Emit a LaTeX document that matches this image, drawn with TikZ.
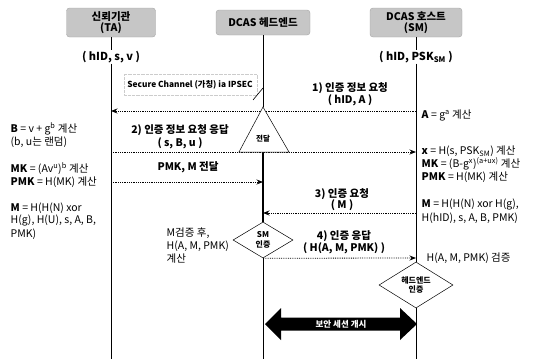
\documentclass[tikz,border=0pt]{standalone}
\usepackage{fontspec}
\setmainfont{Noto Sans CJK KR}
\usetikzlibrary{shapes.geometric,arrows.meta}
\begin{document}
\begin{tikzpicture}[x=1pt,y=-1pt,
  hdr/.style={draw=gray!70, fill=gray!45, rounded corners=3pt, font=\bfseries\fontsize{10.5}{11.5}\selectfont, align=center, inner sep=1pt},
  lbl/.style={font=\bfseries\fontsize{10.5}{12}\selectfont, align=center, inner sep=0.5pt},
  txt/.style={font=\fontsize{10.5}{12}\selectfont, anchor=west, inner sep=0.5pt},
  life/.style={line width=0.9pt},
  msg/.style={densely dotted, line width=0.8pt, -{Stealth[length=6.5pt,width=5pt]}},
  dia/.style={diamond, draw, line width=0.5pt, fill=white, inner sep=0pt, font=\bfseries\fontsize{8}{9.5}\selectfont, align=center}
]
\useasboundingbox (0,0) rectangle (543,359);

% headers
\node[hdr, minimum width=89, minimum height=29] (ta) at (111,22.5) {신뢰기관\\(TA)};
\node[hdr, minimum width=94, minimum height=25] (he) at (263,22.5) {DCAS 헤드엔드};
\node[hdr, minimum width=92, minimum height=29] (sm) at (416,22.5) {DCAS 호스트\\(SM)};

\node[lbl, font=\bfseries\fontsize{11}{12}\selectfont] (tainfo) at (111,57) {( hID, s, v )};
\node[lbl, font=\bfseries\fontsize{11}{12}\selectfont] (sminfo) at (416,57) {( hID, PSK\textsubscript{SM} )};

% coordinates
\coordinate (taend) at (111,359);
\coordinate (heend) at (263,359);
\coordinate (smend) at (416,359);
\coordinate (triA) at (263,107);
\coordinate (triL) at (239,152);
\coordinate (triR) at (289,152);
\coordinate (triB) at (263,152);

% diamonds
\node[dia, shape aspect=1.67, minimum width=60, minimum height=36] (smauth) at (263,240) {SM\\인증};
\node[dia, shape aspect=1.6, minimum width=74, minimum height=46] (heauth) at (416,285) {헤드엔드\\인증};

% lifelines
\draw[life] (ta.south) -- (tainfo.north);
\draw[life] (tainfo.south) -- (taend);
\draw[life] (he.south) -- (triA);
\draw[line width=1.4pt] (triB) -- (smauth.north);
\draw[life] (smauth.south) -- (heend);
\draw[life] (sm.south) -- (sminfo.north);
\draw[life] (sminfo.south) -- (heauth.north);
\draw[life] (heauth.south) -- (smend);

% secure channel
\node[font=\bfseries\fontsize{8.3}{9}\selectfont, inner sep=0pt] (sc) at (190,85) {Secure Channel (가칭) ia IPSEC};
\draw[gray!40, densely dotted, line width=0.3pt] (124,74) rectangle (257,95);
\coordinate (scA) at (253,100);
\coordinate (scB) at (263,88);
\draw[line width=0.6pt] (scA) -- (scB);

% message 1
\coordinate (m1a) at (416,111);
\coordinate (m1b) at (111,111);
\draw[msg] (m1a) -- (m1b);
\node[lbl] (l1a) at (350,88) {1) 인증 정보 요청};
\node[lbl] (l1b) at (350,100) {( hID, A )};
\node[txt] (t1) at (421,115) {\textbf{A} = g\textsuperscript{a} 계산};

% message 2
\coordinate (m2a) at (111,152);
\coordinate (m2b) at (416,152);
\draw[msg] (m2a) -- (m2b);
\node[lbl] (l2a) at (180,130) {2) 인증 정보 요청 응답};
\node[lbl] (l2b) at (180,143) {( s, B, u )};

% triangle
\draw[fill=white, line width=0.5pt] (triA) -- (triL) -- (triR) -- cycle;
\node[font=\bfseries\fontsize{7.5}{8}\selectfont, inner sep=0pt] (fwd) at (263,139) {전달};

% right texts
\node[txt] (t2) at (421,151) {\textbf{x} = H(s, PSK\textsubscript{SM}) 계산};
\node[txt] (t3) at (421,164) {\textbf{MK} = (B-g\textsuperscript{x})\textsuperscript{(a+ux)} 계산};
\node[txt] (t4) at (421,177) {\textbf{PMK} = H(MK) 계산};
\node[txt] (t5) at (421,205) {\textbf{M} = H(H(N) xor H(g),};
\node[txt] (t6) at (421,218) {H(hID), s, A, B, PMK)};

% left texts
\node[txt] (b1) at (10,129) {\textbf{B} = v + g\textsuperscript{b} 계산};
\node[txt] (b2) at (10,142) {(b, u는 랜덤)};
\node[txt] (b3) at (10,169) {\textbf{MK} = (Av\textsuperscript{u})\textsuperscript{b} 계산};
\node[txt] (b4) at (10,182) {\textbf{PMK} = H(MK) 계산};
\node[txt] (b5) at (10,208) {\textbf{M} = H(H(N) xor};
\node[txt] (b6) at (10,221) {H(g), H(U), s, A, B,};
\node[txt] (b7) at (10,234) {PMK)};

% PMK, M
\coordinate (mpa) at (111,182);
\coordinate (mpb) at (263,182);
\draw[msg] (mpa) -- (mpb);
\node[lbl] (lp) at (188,167) {PMK, M 전달};

% message 3
\coordinate (m3a) at (416,213);
\coordinate (m3b) at (263,213);
\draw[msg] (m3a) -- (m3b);
\node[lbl] (l3a) at (342,194) {3) 인증 요청};
\node[lbl] (l3b) at (342,205) {( M )};

% middle texts
\node[txt] (c1) at (166,233) {M검증 후,};
\node[txt] (c2) at (166,246) {H(A, M, PMK)};
\node[txt] (c3) at (166,259) {계산};

% message 4
\coordinate (m4e) at (416,258);
\draw[msg] (smauth.south) -- (m4e);
\node[lbl] (l4a) at (344,236) {4) 인증 응답};
\node[lbl] (l4b) at (344,248) {( H(A, M, PMK) )};
\node[txt] (t7) at (426,258) {H(A, M, PMK) 검증};

% secure session
\fill (265,324) -- (281,308) -- (281,317.5) -- (400,317.5) -- (400,308) -- (417,324) -- (400,340) -- (400,330.5) -- (281,330.5) -- (281,340) -- cycle;
\node[font=\bfseries\fontsize{8.5}{9}\selectfont, text=white, inner sep=0pt] (ss) at (341,324) {보안 세션 개시};
\end{tikzpicture}
\end{document}
